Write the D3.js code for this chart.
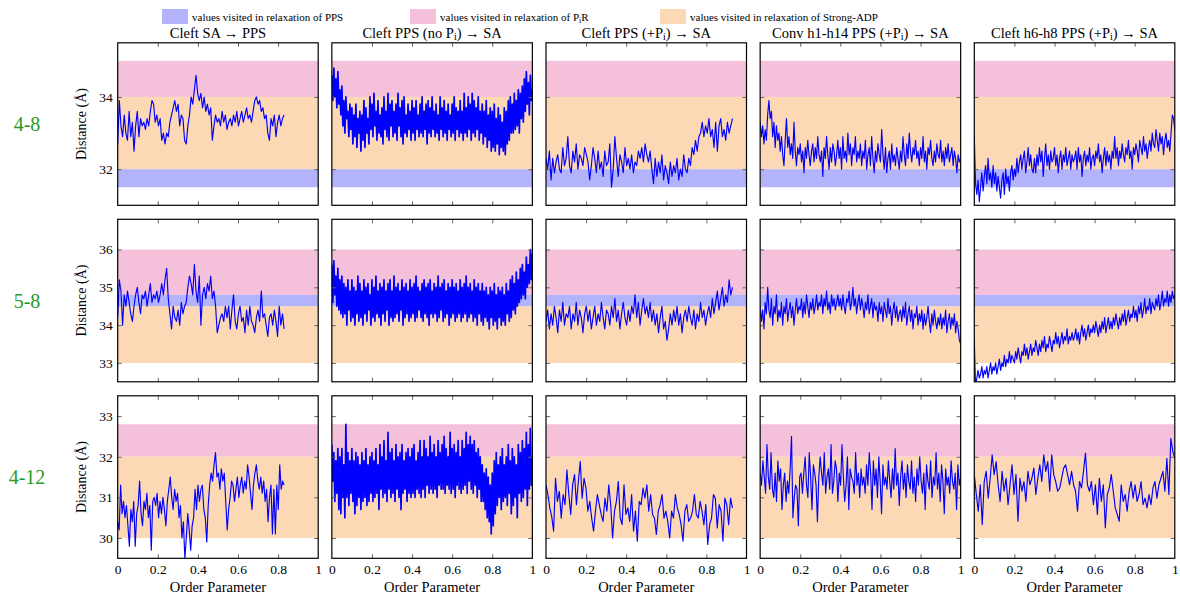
<!DOCTYPE html>
<html><head><meta charset="utf-8">
<script src="https://cdn.jsdelivr.net/npm/d3@7"></script>
<style>body{margin:0;background:#fff} text{font-family:"Liberation Serif","DejaVu Serif",serif}</style>
</head><body><svg id="c" width="1180" height="599"></svg>
<script>
// ---------------- data ----------------
const rowLabels = ["4-8", "5-8", "4-12"];
const colTitles = ["Cleft SA → PPS", "Cleft PPS (no P_i) → SA", "Cleft PPS (+P_i) → SA", "Conv h1-h14 PPS (+P_i) → SA", "Cleft h6-h8 PPS (+P_i) → SA"];
const legendLabels = ["values visited in relaxation of PPS", "values visited in relaxation of P_iR", "values visited in relaxation of Strong-ADP"];
const xTicks = [0, 0.2, 0.4, 0.6, 0.8, 1];
const yTicks = [[32, 34], [33, 34, 35, 36], [30, 31, 32, 33]];
const yDomains = [[31, 35.5], [32.5, 36.8], [29.5, 33.5]];
const bandPPS = [[31.5, 32], [34.5, 34.8], null];
const bandPiR = [[34, 35], [34.8, 36], [32, 32.8]];
const bandADP = [[32, 34], [33, 34.5], [30, 32]];
const xRanges = [[0, 0.83], [0, 1], [0, 0.93], [0, 1], [0, 1]];

const r1s1 = [32.7,33.9,33.2,32.9,33.5,33.0,32.8,33.6,32.9,33.3,32.5,33.2,33.6,32.9,33.4,33.2,33.3,33.1,33.4,33.2,33.6,33.9,33.8,33.3,33.5,33.2,33.4,32.8,33.0,32.7,33.0,32.9,33.3,33.5,33.7,33.9,33.6,33.8,33.2,33.5,33.4,32.8,32.7,33.2,33.5,34.0,33.8,34.2,34.6,34.1,33.9,34.1,33.7,34.0,33.6,33.8,33.5,33.7,32.8,33.2,33.5,33.3,33.4,33.2,33.6,33.3,33.5,33.1,33.3,33.4,33.2,33.5,33.3,33.6,33.2,33.4,33.6,33.3,33.5,33.7,33.4,33.5,33.3,33.6,33.9,34.0,33.8,33.9,33.6,33.7,33.4,33.5,33.0,32.8,33.4,33.2,33.5,32.9,33.3,33.5,33.2,33.4,33.5];
const r1s2 = [34.6,33.9,34.8,34.0,34.5,33.7,34.7,33.8,34.2,33.5,
34.3,33.2,33.9,33.0,34.0,33.4,33.6,32.9,33.8,33.1,
33.7,32.7,33.5,32.9,33.8,32.6,33.4,33.0,33.6,32.5,
33.5,32.8,33.9,32.6,33.7,33.0,33.4,32.7,34.0,33.1,
33.8,32.9,34.1,33.2,33.6,32.8,33.9,33.0,33.5,32.9,
33.7,32.7,34.0,33.1,33.6,32.9,34.1,32.8,33.8,33.2,
33.9,32.9,33.6,33.0,33.8,32.8,34.1,33.2,33.7,32.9,
33.9,32.7,34.0,33.0,33.5,32.9,33.8,33.1,33.6,32.8,
33.9,33.0,33.7,32.8,33.9,33.1,33.5,32.9,33.8,33.0,
34.0,32.9,33.6,33.1,33.8,32.7,33.9,33.0,33.7,32.9,
34.0,33.1,33.6,32.9,33.8,33.0,33.5,32.8,34.0,33.1,
33.7,32.9,33.9,33.0,33.6,32.8,33.8,33.1,33.5,32.9,
33.8,33.0,34.0,32.8,33.7,33.1,33.6,32.9,33.9,33.0,
33.6,32.8,34.1,33.0,33.7,32.9,34.0,33.1,33.8,32.8,
34.1,33.0,33.9,32.9,33.7,33.1,34.0,32.8,33.6,33.0,
33.8,32.7,33.6,32.9,33.9,32.6,33.5,32.8,33.7,32.5,
33.6,32.6,33.8,32.5,33.4,32.7,33.7,32.4,33.5,32.6,
33.3,32.5,33.7,32.4,33.6,32.7,33.9,32.8,34.0,33.0,
33.8,33.0,34.1,33.1,33.9,33.2,34.2,33.0,34.1,33.4,
34.3,33.3,34.5,33.6,34.7,33.8,34.4,33.5,34.6,33.9,34.2];
const r1s3 = [32.3,32.0,32.5,31.7,32.3,31.9,32.2,32.4,32.0,31.9,32.6,32.1,32.3,
32.9,32.1,31.9,32.5,32.2,32.7,32.0,32.4,32.3,32.1,32.6,32.4,
32.2,31.7,32.1,32.6,32.3,31.9,32.5,32.0,32.2,31.8,32.5,32.1,
32.2,32.7,31.5,32.0,32.9,32.3,31.8,32.4,32.2,31.9,32.6,32.1,
32.3,32.0,32.4,31.9,32.2,32.1,32.5,32.3,32.6,32.2,32.7,32.4,
32.2,32.5,32.0,31.6,32.3,31.8,32.2,31.9,32.4,31.7,32.1,31.9,
31.6,32.2,31.8,32.1,31.9,32.3,31.7,32.0,31.8,32.4,32.0,31.9,
32.3,32.1,32.6,32.4,32.8,32.5,32.9,33.0,33.3,32.9,33.2,33.0,
33.4,32.9,33.1,32.6,33.3,32.5,33.2,33.4,32.9,33.1,32.8,33.3,33.0,33.2,33.4];
const r1s4 = [33.3,32.9,33.2,32.7,33.1,32.8,33.5,33.9,33.4,33.6,32.9,33.3,32.6,33.2,32.8,33.0,
32.5,32.9,32.4,32.1,32.8,33.4,32.6,32.9,32.4,32.7,32.3,33.3,32.5,32.1,32.6,32.4,
32.7,32.2,32.5,31.9,32.6,32.3,32.8,32.4,32.1,32.5,32.7,32.2,32.6,32.3,32.9,32.4,
32.2,32.5,31.8,32.6,32.3,32.9,32.4,32.0,32.6,32.2,32.7,32.5,32.1,32.4,32.8,32.3,
32.6,32.0,32.9,32.3,32.5,32.2,33.0,32.4,32.7,32.1,32.6,32.4,32.9,32.2,32.5,32.3,
32.7,32.1,32.5,32.3,32.8,32.0,32.4,32.6,32.1,32.9,32.3,31.9,32.5,32.2,32.7,32.4,
32.2,33.1,32.4,32.0,32.6,31.9,32.3,32.5,32.0,32.7,32.2,32.4,32.1,32.6,32.3,32.0,
32.5,32.2,32.9,32.4,32.1,32.7,32.3,33.0,32.5,32.2,32.6,32.4,32.8,32.3,32.5,32.1,
32.6,32.3,32.9,32.2,32.5,32.0,32.6,32.4,32.8,32.3,32.1,32.5,32.2,32.7,32.4,32.3,
32.8,32.2,32.5,32.1,32.6,32.3,32.7,32.2,32.4,32.6,32.1,32.5,32.3,31.9,32.4,32.2,32.3];
const r1s5 = [32.9,31.6,31.3,31.7,31.1,31.5,31.9,31.4,31.8,32.1,31.6,32.3,31.7,31.9,31.5,32.1,
31.6,31.9,31.4,31.8,31.5,31.2,31.7,31.9,31.3,32.0,31.6,31.8,31.4,31.9,32.1,31.7,
32.0,31.8,32.3,31.9,32.2,32.4,32.0,32.3,32.5,31.9,32.2,32.6,32.1,32.4,32.0,31.9,
32.3,31.9,32.4,32.1,32.6,32.2,32.5,31.8,32.3,32.7,32.1,32.4,32.0,32.5,32.2,32.3,
32.6,32.1,32.4,31.9,32.3,32.5,32.0,32.4,32.2,32.6,32.1,32.3,32.5,32.0,32.4,32.2,
32.3,32.5,32.0,32.6,32.2,32.4,31.8,32.3,32.5,32.1,32.4,32.2,32.6,32.0,32.3,32.4,
32.1,32.5,32.3,32.7,32.2,32.4,31.9,32.3,32.6,32.1,32.5,32.2,32.4,32.0,32.5,32.3,
32.9,32.3,32.6,32.1,32.5,32.3,32.7,32.4,32.2,32.6,32.4,32.8,32.3,32.5,32.0,32.6,
32.4,32.7,32.5,32.2,32.8,32.6,32.4,32.9,32.5,32.7,32.3,32.6,32.8,32.5,33.0,32.7,
32.6,33.1,32.8,32.5,33.0,32.7,32.9,32.4,32.8,33.0,32.6,32.8,32.5,33.0,33.5,33.4,33.1];

const r2s1 = [34.2,35.2,34.9,34.0,34.8,34.5,34.9,34.6,34.3,34.1,34.5,34.8,35.0,34.6,34.3,34.8,34.7,34.9,34.5,34.8,35.1,34.6,34.8,34.7,34.9,34.6,34.8,35.1,34.8,35.2,35.5,34.7,34.3,33.9,34.5,34.2,34.1,34.4,34.0,34.6,34.3,34.5,34.6,35.0,35.3,35.1,34.8,35.6,34.9,34.6,35.3,34.0,34.8,35.0,34.7,35.1,34.9,35.3,34.7,34.9,34.5,33.8,34.0,34.2,34.3,34.1,34.5,34.2,34.5,33.9,34.4,34.8,34.1,33.9,34.3,34.5,34.1,34.2,33.8,34.4,34.0,34.5,34.1,34.0,33.8,34.2,34.4,34.1,34.9,34.2,34.3,34.0,33.7,34.2,34.3,34.0,34.4,34.1,33.7,34.5,34.0,34.3,33.9];
const r2s2 = [35.6,34.6,35.7,34.8,35.3,34.5,35.5,34.4,35.2,34.3,
35.3,34.2,35.1,34.3,35.0,34.0,35.2,34.4,34.9,34.1,
35.2,34.2,35.0,34.0,34.9,34.3,35.3,34.1,35.1,34.2,
34.9,34.0,35.2,34.3,35.0,34.1,35.1,34.4,34.8,34.0,
35.2,34.2,35.0,34.1,35.3,34.3,34.9,34.2,35.1,34.0,
35.0,34.3,35.2,34.1,34.9,34.4,35.1,34.0,35.2,34.2,
34.9,34.1,35.3,34.2,35.0,34.3,35.1,34.1,34.9,34.4,
35.2,34.0,35.0,34.2,35.1,34.3,34.9,34.1,35.2,34.2,
35.0,34.3,35.1,34.1,35.3,34.2,35.0,34.4,34.9,34.2,
35.1,34.1,35.2,34.3,35.0,34.2,35.1,34.0,35.2,34.3,
34.9,34.2,35.1,34.3,35.0,34.1,35.3,34.2,35.0,34.4,
35.1,34.1,35.2,34.2,34.9,34.3,35.1,34.0,35.0,34.2,
35.2,34.3,35.0,34.1,35.1,34.2,34.9,34.3,35.2,34.1,
35.0,34.2,35.1,34.3,35.3,34.1,35.0,34.2,35.1,34.3,
34.9,34.1,35.2,34.2,35.0,34.0,35.1,34.3,34.9,34.1,
35.1,34.0,34.9,34.2,35.0,34.1,34.8,33.9,35.0,34.2,
34.9,34.0,35.1,34.1,34.8,33.9,35.0,34.2,34.9,34.0,
35.0,34.1,34.8,34.0,35.1,34.3,34.9,34.1,35.2,34.2,
35.3,34.4,35.1,34.3,35.4,34.5,35.2,34.6,35.5,34.7,
35.6,34.8,35.4,34.7,35.8,35.0,35.6,35.1,36.0,35.2,35.9];
const r2s3 = [34.1,34.4,33.9,34.3,34.0,34.5,34.2,33.8,34.4,34.1,34.6,34.0,34.3,
34.2,34.5,33.9,34.3,34.1,34.6,34.0,34.4,34.2,33.8,34.3,34.5,
34.1,34.4,33.9,34.2,34.5,34.0,34.3,34.1,34.6,34.2,33.9,34.4,
34.3,34.0,34.5,34.2,34.7,34.1,34.4,33.9,34.3,34.6,34.2,34.0,
34.4,34.1,34.5,34.3,34.8,34.2,34.6,34.0,34.4,34.7,34.3,34.5,
34.2,34.6,34.1,34.4,34.0,34.3,33.8,34.2,34.5,33.9,34.1,33.6,
33.9,34.3,34.0,34.4,34.1,34.5,34.0,34.3,33.8,34.2,34.4,34.1,
34.5,34.2,34.0,34.4,33.9,34.3,34.1,34.6,34.2,34.4,34.0,34.3,
34.5,34.2,34.7,34.3,34.6,34.9,34.4,34.7,35.0,34.5,34.8,34.6,35.2,34.8,35.0];
const r2s4 = [34.5,34.1,34.4,33.9,34.6,34.3,35.0,34.4,34.2,34.7,34.0,34.5,34.3,34.8,34.1,34.4,
34.2,34.6,34.0,34.5,34.3,34.7,34.1,34.4,34.6,34.2,34.5,34.0,34.4,34.7,34.3,34.5,
34.4,34.7,34.2,34.6,34.3,34.8,34.5,34.2,34.6,34.4,34.7,34.3,34.5,34.8,34.4,34.6,
34.5,34.8,34.3,34.7,34.5,34.9,34.4,34.6,34.3,34.8,34.5,34.7,34.4,34.6,34.8,34.5,
34.7,34.4,34.8,34.5,34.3,34.7,34.6,34.9,34.4,34.6,35.0,34.5,34.7,34.3,34.6,34.8,
34.4,34.7,34.5,34.2,34.6,34.4,34.8,34.3,34.5,34.7,34.2,34.6,34.4,34.5,34.1,34.6,
34.3,34.5,34.1,34.6,34.4,34.2,34.7,34.3,34.5,34.0,34.4,34.6,34.2,34.5,34.1,34.3,
34.4,34.1,34.5,34.2,34.6,34.0,34.3,34.5,34.1,34.4,33.9,34.3,34.2,34.5,34.0,34.3,
34.1,34.4,33.9,34.3,34.0,34.2,34.5,34.1,33.8,34.3,34.0,34.4,34.1,33.9,34.2,34.0,
34.3,33.9,34.2,34.0,34.4,33.8,34.1,34.3,33.9,34.2,34.0,34.3,33.8,34.1,33.9,33.6,33.5];
const r2s5 = [33.6,32.4,32.6,32.8,32.6,32.7,32.9,32.6,32.8,32.7,32.9,32.6,32.8,33.0,32.7,32.9,
32.8,33.0,32.7,32.9,33.1,32.8,33.0,32.9,33.2,32.9,33.1,33.0,33.3,33.0,33.2,33.1,
33.0,33.3,33.1,33.4,33.2,33.0,33.3,33.2,33.5,33.2,33.4,33.1,33.3,33.5,33.2,33.4,
33.3,33.6,33.4,33.2,33.5,33.3,33.6,33.4,33.7,33.3,33.5,33.4,33.7,33.5,33.3,33.6,
33.5,33.8,33.5,33.7,33.4,33.6,33.8,33.5,33.7,33.6,33.9,33.5,33.7,33.6,33.8,33.6,
33.7,33.9,33.6,33.8,33.5,33.8,34.0,33.7,33.9,33.6,33.8,34.0,33.7,33.9,33.8,34.0,
33.8,34.1,33.9,33.7,34.0,33.8,34.1,33.9,34.2,33.8,34.0,34.2,33.9,34.1,33.9,34.2,
34.0,34.3,34.1,33.9,34.2,34.0,34.3,34.1,34.4,34.0,34.2,34.4,34.1,34.3,34.2,34.5,
34.2,34.4,34.1,34.5,34.3,34.6,34.2,34.4,34.7,34.3,34.5,34.4,34.7,34.3,34.6,34.5,
34.4,34.7,34.5,34.8,34.4,34.6,34.9,34.5,34.7,34.6,34.9,34.5,34.8,34.6,34.9,34.7,34.8];

const r3s1 = [30.4,30.2,31.3,30.6,30.9,30.5,30.8,30.3,29.8,30.7,30.4,30.9,29.8,30.6,
30.8,31.4,30.6,30.3,30.9,30.7,31.1,30.5,30.8,29.7,30.9,31.0,
30.8,31.1,30.5,30.9,30.6,31.0,30.7,30.3,30.9,31.2,31.5,31.0,30.7,31.2,
30.9,31.1,30.5,30.8,30.0,30.4,29.5,30.0,30.6,30.2,29.7,30.3,30.5,
31.2,30.7,31.3,30.9,31.2,31.3,30.7,30.5,29.9,30.8,31.3,31.6,31.4,
31.8,32.1,31.5,31.6,31.2,31.7,31.4,31.6,30.9,30.2,30.7,31.0,
31.4,31.3,30.9,31.2,31.5,31.0,31.3,31.5,31.1,31.4,31.2,
31.8,31.5,31.1,30.7,31.3,31.6,31.8,31.4,31.2,31.5,31.1,
31.4,30.9,31.2,30.4,31.0,31.3,30.1,31.2,30.1,31.3,30.7,31.8,31.2,31.4,31.3];
const r3s2 = [32.3,31.4,32.1,30.9,31.9,31.1,32.2,30.7,32.0,30.6,
32.2,31.0,31.8,30.5,32.8,31.0,32.1,30.8,31.9,31.1,
32.2,30.9,31.9,30.6,32.1,30.8,32.0,31.0,31.8,30.7,
32.1,30.9,31.9,31.0,32.2,30.8,31.8,30.9,32.0,31.1,
32.1,30.9,31.9,31.0,32.2,31.1,31.8,30.7,32.3,31.2,
32.0,31.0,32.4,31.1,31.9,30.9,32.6,31.2,32.1,31.0,
32.2,31.1,31.9,30.9,32.3,31.2,32.0,31.0,32.1,30.7,
32.3,31.1,31.9,31.2,32.1,30.9,32.2,31.1,32.0,31.0,
32.2,31.1,32.3,31.0,31.9,31.2,32.1,31.1,32.4,31.0,
32.0,31.2,32.4,31.0,32.2,31.3,32.0,31.1,32.5,31.2,
32.1,31.1,32.3,31.2,32.0,31.0,32.4,31.3,32.1,31.2,
32.3,31.2,32.5,31.1,32.2,31.3,32.0,31.2,32.6,31.1,
32.2,31.2,32.3,31.0,32.1,31.3,32.4,31.2,32.0,31.1,
32.4,31.2,32.2,31.3,32.6,31.1,32.3,31.4,32.5,31.2,
32.3,31.1,32.4,31.3,32.1,31.0,32.2,31.2,32.0,30.9,
31.8,30.9,31.6,30.7,31.7,30.5,31.5,30.4,31.3,30.1,
31.6,30.3,31.9,30.6,32.1,30.8,31.8,31.0,32.0,30.7,
32.2,30.9,31.8,31.0,32.0,30.8,32.3,31.1,31.9,30.6,
32.2,30.8,32.0,31.0,31.8,30.5,32.3,31.1,32.1,30.9,
32.4,31.0,32.2,31.2,32.6,30.8,32.3,31.2,32.7,31.3,32.0];
const r3s3 = [31.31,31.07,30.74,30.53,30.17,31.47,30.9,31.15,30.49,31.07,30.82,31.68,31.07,30.58,31.31,31.56,30.82,31.39,31.88,30.98,31.47,31.23,30.66,30.9,30.49,30.17,30.66,31.07,30.82,30.58,30.41,30.98,30.66,31.31,30.82,30.0,30.66,30.9,31.39,30.49,30.33,31.31,30.58,30.74,30.41,31.07,30.17,30.66,29.92,30.9,30.82,31.23,30.98,31.31,30.66,31.07,30.58,30.49,30.09,30.66,30.82,31.07,30.49,30.66,30.41,30.0,30.66,30.49,31.07,30.74,30.58,30.33,29.92,30.66,30.82,30.41,30.49,30.66,31.07,30.58,30.49,30.9,30.66,30.33,30.82,29.84,30.33,30.49,31.07,30.98,30.25,30.82,30.66,29.92,30.98,30.82,30.33,30.98,30.74];
const r3s4 = [31.6,31.3,31.9,31.5,31.1,32.3,31.5,31.2,32.1,31.2,31.0,31.6,30.9,31.9,31.4,31.7,30.7,31.3,31.6,30.9,31.4,31.1,31.7,32.5,30.5,31.0,31.3,31.2,30.3,31.5,31.6,31.1,31.6,32.0,31.3,31.0,32.1,31.5,30.7,31.8,31.6,31.3,30.4,31.5,32.0,31.6,31.3,32.1,31.1,31.5,31.7,31.2,32.3,31.1,31.4,31.9,31.7,30.9,31.6,31.3,32.3,31.5,30.9,31.3,32.0,30.7,31.7,31.5,31.4,31.1,32.1,31.3,31.6,31.0,31.7,31.3,31.5,31.1,31.8,31.3,32.1,31.6,30.7,31.9,31.3,31.7,31.0,32.0,31.4,30.6,31.8,31.3,31.5,31.2,31.9,31.4,31.0,31.7,31.2,32.2,31.3,31.6,30.8,31.5,31.9,31.2,31.6,31.0,31.8,31.4,31.2,31.9,31.1,31.5,30.9,31.7,31.3,32.0,31.4,31.1,31.6,30.7,31.8,31.4,31.2,31.9,31.0,31.5,31.3,32.1,31.2,31.6,30.9,31.8,31.4,30.6,31.7,31.3,31.5,31.1,31.9,31.4,31.2,31.6,30.7,31.8,31.3,31.5];
const r3s5 = [31.56,31.07,30.66,31.31,30.33,31.39,31.64,30.98,31.47,32.05,31.56,31.88,31.31,30.9,31.64,31.15,31.47,30.82,31.31,31.8,31.07,31.56,30.41,31.47,31.15,31.39,30.9,31.64,31.31,31.47,31.72,31.07,31.47,31.8,31.39,32.05,31.64,31.88,31.15,32.05,31.56,31.39,31.15,31.23,31.47,31.72,31.8,31.56,31.31,31.64,31.31,31.15,30.66,31.39,31.23,31.64,32.09,31.31,31.15,31.39,30.82,31.31,30.58,31.47,30.9,31.31,30.25,31.07,31.23,31.56,31.15,30.74,30.58,30.41,31.31,30.9,31.07,30.66,31.15,31.39,30.98,31.31,30.9,31.07,31.39,30.82,30.98,30.74,31.07,30.82,31.23,31.39,30.98,31.31,31.47,31.64,31.15,31.96,31.07,32.45,32.13,31.96];

const series = [[r1s1, r1s2, r1s3, r1s4, r1s5], [r2s1, r2s2, r2s3, r2s4, r2s5], [r3s1, r3s2, r3s3, r3s4, r3s5]];

// ---------------- layout ----------------
const colors = { pps: "#b3b3fb", pir: "#f5c1da", adp: "#fdd8b5", line: "#0000ff", green: "#279a27" };
const W = 200.5, H = 162.5, left0 = 117.7, colStep = 214.15, top0 = 42.8, rowStep = 176.5;
const svg = d3.select("#c");

function addSubText(sel, str, subSize) {
  const parts = str.split("_i");
  parts.forEach((p, k) => {
    if (k > 0) sel.append("tspan").attr("font-size", subSize).attr("baseline-shift", "-20%").text("i");
    if (p.length) sel.append("tspan").text(p);
  });
}

// legend
const legX = [162, 410, 660];
const legFill = [colors.pps, colors.pir, colors.adp];
legendLabels.forEach((l, i) => {
  svg.append("rect").attr("x", legX[i]).attr("y", 9).attr("width", 26).attr("height", 15).attr("fill", legFill[i]);
  const t = svg.append("text").attr("x", legX[i] + 30).attr("y", 20.5).attr("font-size", 11);
  addSubText(t, l, 8);
});

const xScale = d3.scaleLinear().domain([0, 1]).range([0, W]);

series.forEach((rowSeries, r) => {
  const y = d3.scaleLinear().domain(yDomains[r]).range([H, 0]);
  const top = top0 + r * rowStep;
  // row label
  svg.append("text").attr("x", 27).attr("y", top + H / 2 + 7).attr("text-anchor", "middle")
    .attr("font-size", 20).attr("fill", colors.green).text(rowLabels[r]);
  // y label
  svg.append("text").attr("transform", `translate(86,${top + H / 2}) rotate(-90)`).attr("text-anchor", "middle")
    .attr("font-size", 14).text("Distance (Å)");

  rowSeries.forEach((vals, c) => {
    const g = svg.append("g").attr("transform", `translate(${left0 + c * colStep},${top})`);
    const cid = `clip${r}${c}`;
    g.append("clipPath").attr("id", cid).append("rect").attr("width", W).attr("height", H);
    const inner = g.append("g").attr("clip-path", `url(#${cid})`);
    [[bandPiR[r], colors.pir], [bandADP[r], colors.adp], [bandPPS[r], colors.pps]].forEach(([b, col]) => {
      if (!b) return;
      inner.append("rect").attr("x", 0).attr("width", W).attr("y", y(b[1])).attr("height", y(b[0]) - y(b[1])).attr("fill", col);
    });
    const [x0, x1] = xRanges[c];
    const n = vals.length;
    const density = n / ((x1 - x0) * W);
    const line = d3.line().x((d, i) => xScale(x0 + (x1 - x0) * i / (n - 1))).y(d => y(d));
    inner.append("path").datum(vals).attr("d", line).attr("fill", "none").attr("stroke", colors.line)
      .attr("stroke-width", density > 0.95 ? 1.7 : 1.15).attr("stroke-linejoin", "round");

    // axes with inward ticks
    const styleAxis = a => { a.select(".domain").remove(); a.selectAll(".tick line").attr("stroke", "#666"); a.selectAll("text").attr("font-family", "Liberation Serif, serif").attr("fill", "#000"); };
    g.append("g").call(d3.axisLeft(y).tickValues(yTicks[r]).tickSizeInner(-4).tickSizeOuter(0).tickPadding(5)
      .tickFormat(c === 0 ? d3.format("d") : () => "")).call(styleAxis).attr("font-size", 13.5);
    g.append("g").attr("transform", `translate(${W},0)`).call(d3.axisRight(y).tickValues(yTicks[r]).tickSizeInner(-4).tickSizeOuter(0).tickFormat(() => "")).call(styleAxis);
    g.append("g").call(d3.axisTop(xScale).tickValues(xTicks.slice(1, -1)).tickSizeInner(-4).tickSizeOuter(0).tickFormat(() => "")).call(styleAxis);
    const bx = g.append("g").attr("transform", `translate(0,${H})`);
    bx.call(d3.axisBottom(xScale).tickValues(r === 2 ? xTicks : xTicks.slice(1, -1)).tickSizeInner(-4).tickSizeOuter(0).tickPadding(6)
      .tickFormat(r === 2 ? d3.format("") : () => "")).call(styleAxis).attr("font-size", 13.5);
    bx.selectAll(".tick").filter(d => d === 0 || d === 1).select("line").remove();

    g.append("rect").attr("width", W).attr("height", H).attr("fill", "none").attr("stroke", "#000").attr("stroke-width", 1.2);

    if (r === 0) {
      const t = g.append("text").attr("x", W / 2).attr("y", -5).attr("text-anchor", "middle").attr("font-size", 14.5);
      addSubText(t, colTitles[c], 10);
    }
    if (r === 2) {
      g.append("text").attr("x", W / 2).attr("y", H + 34).attr("text-anchor", "middle").attr("font-size", 14.5).text("Order Parameter");
    }
  });
});
</script></body></html>
